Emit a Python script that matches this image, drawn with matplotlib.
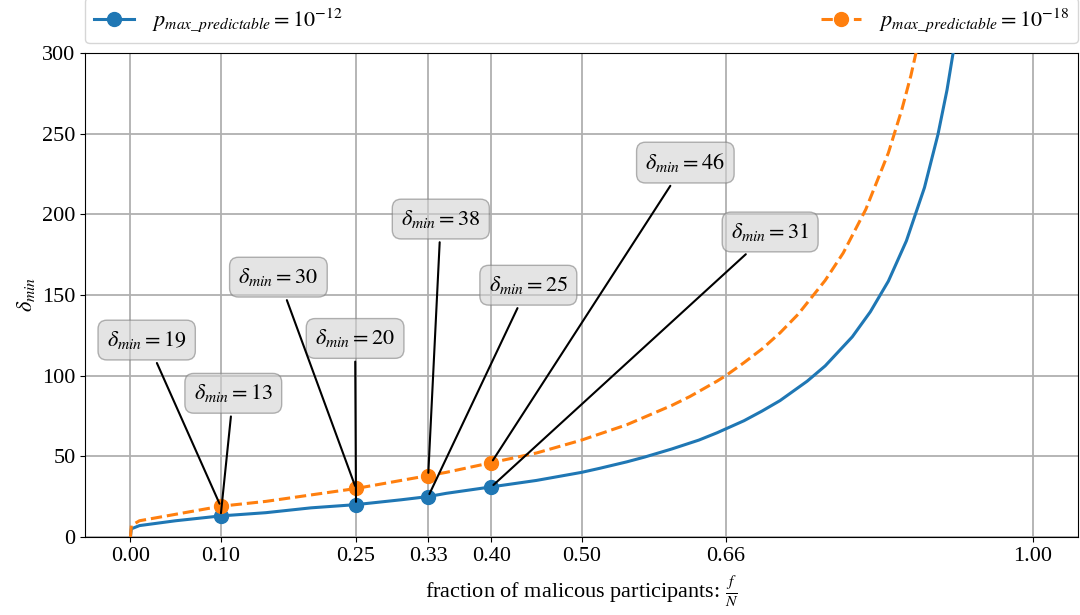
import matplotlib
matplotlib.use("Agg")
import matplotlib.pyplot as plt

plt.rcParams['font.family'] = ['Liberation Serif', 'DejaVu Serif']
plt.rcParams['mathtext.fontset'] = 'stix'

## values (fraction f/N, delta_min)
f_12 = [0.0, 0.001, 0.01, 0.05, 0.10, 0.15, 0.20, 0.25, 0.30, 0.33, 0.35, 0.40, 0.45, 0.50,
        0.52, 0.55, 0.57, 0.60, 0.63, 0.65, 0.66, 0.68, 0.70, 0.72, 0.75, 0.77, 0.80, 0.82,
        0.84, 0.86, 0.88, 0.895, 0.905, 0.915]
d_12 = [0, 5, 7, 10, 13, 15, 18, 20, 23, 25, 27, 31, 35, 40,
        42.5, 46.5, 49.5, 54.5, 60, 64.5, 67, 72, 78, 84.5, 96.5, 106, 124, 139.5,
        158.5, 183.5, 216.5, 249.5, 277, 311]

f_18 = [0.0, 0.001, 0.01, 0.05, 0.10, 0.15, 0.20, 0.25, 0.30, 0.33, 0.35, 0.40, 0.45, 0.50,
        0.55, 0.60, 0.62, 0.65, 0.66, 0.68, 0.70, 0.72, 0.74, 0.77, 0.79, 0.815, 0.84,
        0.855, 0.865, 0.875]
d_18 = [0, 7, 10, 14, 19, 22, 26, 30, 35, 38, 40, 46, 52, 60,
        69.5, 81.5, 87, 96.5, 100, 108, 116.5, 126.5, 138, 159, 176, 203, 238,
        265, 286, 311]

## marked points and their label positions
mark_f = [0.10, 0.25, 0.33, 0.40]
mark_12 = [13, 20, 25, 31]
mark_18 = [19, 30, 38, 46]
txt_12 = [(0.114, 89), (0.249, 123), (0.441, 156), (0.709, 189)]
txt_18 = [(0.018, 122), (0.164, 161), (0.344, 197), (0.615, 232)]

xticks = [0.0, 0.10, 0.25, 0.33, 0.40, 0.50, 0.66, 1.00]
xtick_labels = ["0.00", "0.10", "0.25", "0.33", "0.40", "0.50", "0.66", "1.00"]

fig = plt.figure(figsize=(10.8, 6.15), dpi=100)
ax = fig.add_axes([0.079, 0.127, 0.919, 0.787])

ax.plot(f_12, d_12, color='tab:blue', lw=2.2, zorder=3)
ax.plot(f_18, d_18, color='tab:orange', lw=2.2, ls='--', zorder=3)
ax.plot(mark_f, mark_12, 'o', color='tab:blue', ms=10, zorder=4)
ax.plot(mark_f, mark_18, 'o', color='tab:orange', ms=10, zorder=4)

## legend handles
h1, = ax.plot([], [], '-o', color='tab:blue', lw=2.2, ms=10,
              label=r'$p_{max\_predictable} = 10^{-12}$')
h2, = ax.plot([], [], '--o', color='tab:orange', lw=2.2, ms=10,
              label=r'$p_{max\_predictable} = 10^{-18}$')

bbox = dict(boxstyle="round,pad=0.4", fc="lightgray", ec="gray", alpha=0.6)
for x, y, t in zip(mark_f, mark_12, txt_12):
    ax.annotate(r'$\delta_{min} = %d$' % y, xy=(x, y), xytext=t, ha='center', va='center',
                fontsize=16, bbox=bbox, arrowprops=dict(arrowstyle='-', color='black', lw=1.5),
                zorder=5)
for x, y, t in zip(mark_f, mark_18, txt_18):
    ax.annotate(r'$\delta_{min} = %d$' % y, xy=(x, y), xytext=t, ha='center', va='center',
                fontsize=16, bbox=bbox, arrowprops=dict(arrowstyle='-', color='black', lw=1.5),
                zorder=5)

ax.set_xlim(-0.05, 1.05)
ax.set_ylim(0, 300)
ax.set_xticks(xticks)
ax.set_xticklabels(xtick_labels)
ax.tick_params(labelsize=16)
ax.grid(True, color='#b0b0b0', lw=1.3)
ax.set_axisbelow(True)
ax.set_xlabel(r'fraction of malicous participants: $\frac{f}{N}$', fontsize=16, labelpad=6)
ax.set_ylabel(r'$\delta_{min}$', fontsize=16)

ax.legend(handles=[h1, h2], bbox_to_anchor=(0, 1.02, 1, 0.1), loc='lower left',
          mode='expand', ncol=2, fontsize=16, borderaxespad=0, handlelength=1.8)

fig.savefig("out.png", dpi=100)
